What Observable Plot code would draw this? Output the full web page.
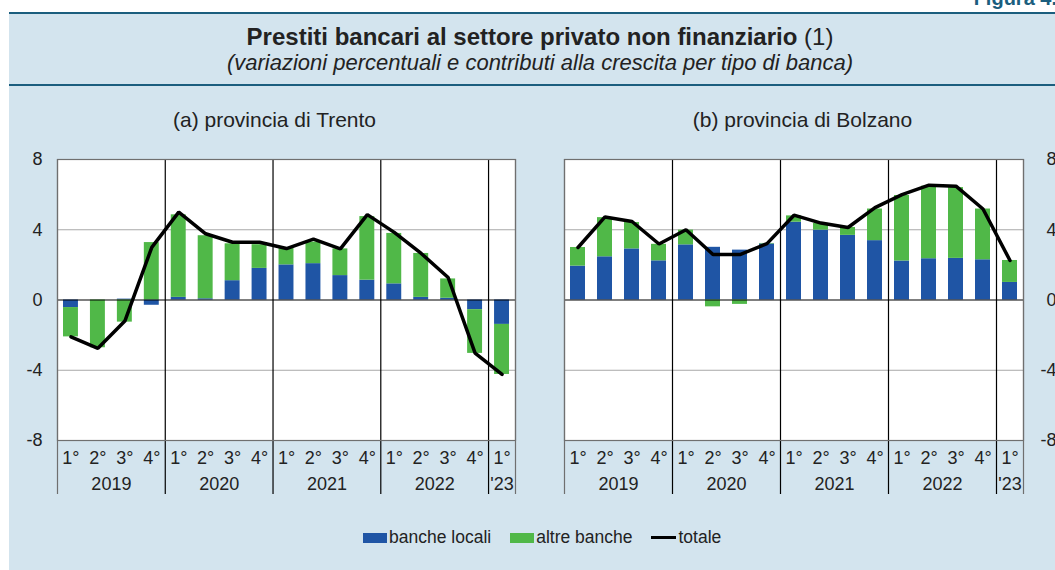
<!DOCTYPE html>
<html>
<head>
<meta charset="utf-8">
<script src="https://cdn.jsdelivr.net/npm/d3@7"></script>
<script src="https://cdn.jsdelivr.net/npm/@observablehq/plot@0.6"></script>
<style>
  html, body { margin: 0; padding: 0; background: #ffffff; overflow: hidden; }
  #root { position: relative; width: 1055px; height: 570px; overflow: hidden; font-family: "Liberation Sans", Arial, Helvetica, sans-serif; color: #222; }
  .bg { position: absolute; left: 9px; top: 12px; width: 1046px; height: 558px; background: #d3e4ee; border-top: 2px solid #1b5e7e; box-sizing: border-box; }
  .sep { position: absolute; left: 9px; top: 84px; width: 1046px; height: 2px; background: #1b5e7e; }
  .fig { position: absolute; right: -2px; top: -13px; font-size: 20px; font-weight: bold; color: #1b5e7e; }
  .title { position: absolute; left: 0; width: 1080px; text-align: center; white-space: nowrap; }
  .t1 { top: 23px; font-size: 24px; font-weight: bold; }
  .t1 span { font-weight: normal; }
  .t2 { top: 50px; font-size: 22px; font-style: italic; }
  .ptitle { position: absolute; top: 108px; font-size: 21px; text-align: center; white-space: nowrap; }
  .plot { position: absolute; top: 150px; height: 350px; }
  .plot svg { overflow: visible; display: block; }
  .legend { position: absolute; left: 363px; top: 527px; display: flex; align-items: center; font-size: 17.5px; white-space: nowrap; }
  .sw { display: inline-block; width: 24px; height: 10px; margin-right: 2px; }
  .ln { display: inline-block; width: 25px; height: 3px; background: #000; margin-right: 2px; }
  .item { display: flex; align-items: center; margin-right: 19px; }
</style>
</head>
<body>
<div id="root">
  <div class="fig">Figura 4.</div>
  <div class="bg"></div>
  <div class="sep"></div>
  <div class="title t1">Prestiti bancari al settore privato non finanziario <span>(1)</span></div>
  <div class="title t2">(variazioni percentuali e contributi alla crescita per tipo di banca)</div>
  <div class="ptitle" style="left:9px;width:531px;">(a) provincia di Trento</div>
  <div class="ptitle" style="left:540px;width:525px;">(b) provincia di Bolzano</div>
  <div id="left" class="plot" style="left:0px;width:540px;"></div>
  <div id="right" class="plot" style="left:540px;width:520px;"></div>
  <div class="legend">
    <div class="item"><span class="sw" style="background:#1f55a5"></span>banche locali</div>
    <div class="item"><span class="sw" style="background:#50b848"></span>altre banche</div>
    <div class="item"><span class="ln"></span>totale</div>
  </div>
</div>
<script>
// ---- data ----
const periods = ["2019-1","2019-2","2019-3","2019-4","2020-1","2020-2","2020-3","2020-4",
                 "2021-1","2021-2","2021-3","2021-4","2022-1","2022-2","2022-3","2022-4","2023-1"];
const quarterLabels = ["1°","2°","3°","4°","1°","2°","3°","4°","1°","2°","3°","4°","1°","2°","3°","4°","1°"];
const yearKeys = ["2019","2020","2021","2022","2023"];
const yearLabels = ["2019","2020","2021","2022","'23"];
const seriesNames = ["banche locali","altre banche"];
const seriesColors = ["#1f55a5","#50b848"];
const yTicks = [-8,-4,0,4,8];

const trentoLocali = [-0.43, 0.00, 0.05, -0.30, 0.15, 0.07, 1.10, 1.80, 2.00, 2.07, 1.39, 1.13, 0.92, 0.15, 0.10, -0.55, -1.39];
const trentoAltre  = [-1.67, -2.72, -1.26, 3.27, 4.70, 3.59, 2.10, 1.35, 0.93, 1.23, 1.52, 3.62, 2.87, 2.50, 1.10, -2.49, -2.85];
const trentoTotale = [-2.10, -2.75, -1.20, 3.00, 5.00, 3.77, 3.29, 3.29, 2.93, 3.47, 2.91, 4.86, 3.85, 2.65, 1.28, -3.02, -4.24];

const bolzanoLocali = [1.93, 2.46, 2.91, 2.23, 3.14, 3.00, 2.84, 3.19, 4.43, 3.98, 3.68, 3.38, 2.22, 2.35, 2.37, 2.29, 1.00];
const bolzanoAltre  = [1.06, 2.23, 1.50, 0.94, 0.84, -0.39, -0.25, 0.03, 0.36, 0.38, 0.45, 1.80, 3.73, 4.13, 4.03, 2.89, 1.25];
const bolzanoTotale = [2.99, 4.73, 4.47, 3.19, 4.00, 2.59, 2.59, 3.21, 4.83, 4.38, 4.13, 5.26, 6.00, 6.54, 6.48, 5.18, 2.25];

// ---- derived tables ----
const n = periods.length;
const yearOf = p => p.slice(0, 4);
const years = yearKeys.map((k, j) => {
  const idx = periods.map((p, i) => yearOf(p) === k ? i : -1).filter(i => i >= 0);
  return {label: yearLabels[j], start: d3.min(idx), end: d3.max(idx) + 1};
});
const boundaries = years.slice(1).map(y => y.start);

function panel(locali, altre, totale, side) {
  const rows = [];
  periods.forEach((p, i) => {
    rows.push({i, series: seriesNames[0], value: locali[i]});
    rows.push({i, series: seriesNames[1], value: altre[i]});
  });
  const tot = periods.map((p, i) => ({i, value: totale[i]}));
  const quarters = quarterLabels.map((q, i) => ({i, q}));
  const isLeft = side === "left";
  return Plot.plot({
    width: isLeft ? 540 : 520,
    height: 350,
    marginTop: 9,
    marginBottom: 60,
    marginLeft: isLeft ? 57 : 24,
    marginRight: isLeft ? 25 : 37,
    style: {background: "transparent", fontFamily: "'Liberation Sans', Arial, sans-serif", fontSize: "18px", color: "#222", overflow: "visible"},
    x: {domain: [0, n], axis: null},
    y: {domain: [-8, 8], axis: null},
    color: {domain: seriesNames, range: seriesColors},
    marks: [
      Plot.frame({fill: "white", stroke: null}),
      Plot.ruleY([-4, 4], {stroke: "#a8a8a8", strokeWidth: 1}),
      Plot.rectY(rows, {x1: d => d.i, x2: d => d.i + 1, y: "value", fill: "series", insetLeft: 6, insetRight: 6}),
      Plot.ruleY([0], {stroke: "#000", strokeWidth: 1.2}),
      Plot.ruleX(boundaries, {stroke: "#000", strokeWidth: 1.2, insetBottom: -54}),
      Plot.ruleX([0, n], {stroke: "#6f6f6f", strokeWidth: 1.2, insetBottom: -54}),
      Plot.frame({stroke: "#6f6f6f", strokeWidth: 1.2}),
      Plot.line(tot, {x: d => d.i + 0.5, y: "value", stroke: "#000", strokeWidth: 3.5, strokeLinejoin: "miter"}),
      Plot.text(quarters, {x: d => d.i + 0.5, text: "q", frameAnchor: "bottom", dy: 23, fill: "#222"}),
      Plot.text(years, {x: d => (d.start + d.end) / 2, text: "label", frameAnchor: "bottom", dy: 49, fill: "#222"}),
      isLeft
        ? Plot.axisY(yTicks, {anchor: "left", label: null, tickSize: 0, tickPadding: 15, fill: "#222", tickFormat: d => String(d)})
        : Plot.axisY(yTicks, {anchor: "right", label: null, tickSize: 0, tickPadding: 33, textAnchor: "end", fill: "#222", tickFormat: d => String(d)})
    ]
  });
}

document.getElementById("left").appendChild(panel(trentoLocali, trentoAltre, trentoTotale, "left"));
document.getElementById("right").appendChild(panel(bolzanoLocali, bolzanoAltre, bolzanoTotale, "right"));
</script>
</body>
</html>
